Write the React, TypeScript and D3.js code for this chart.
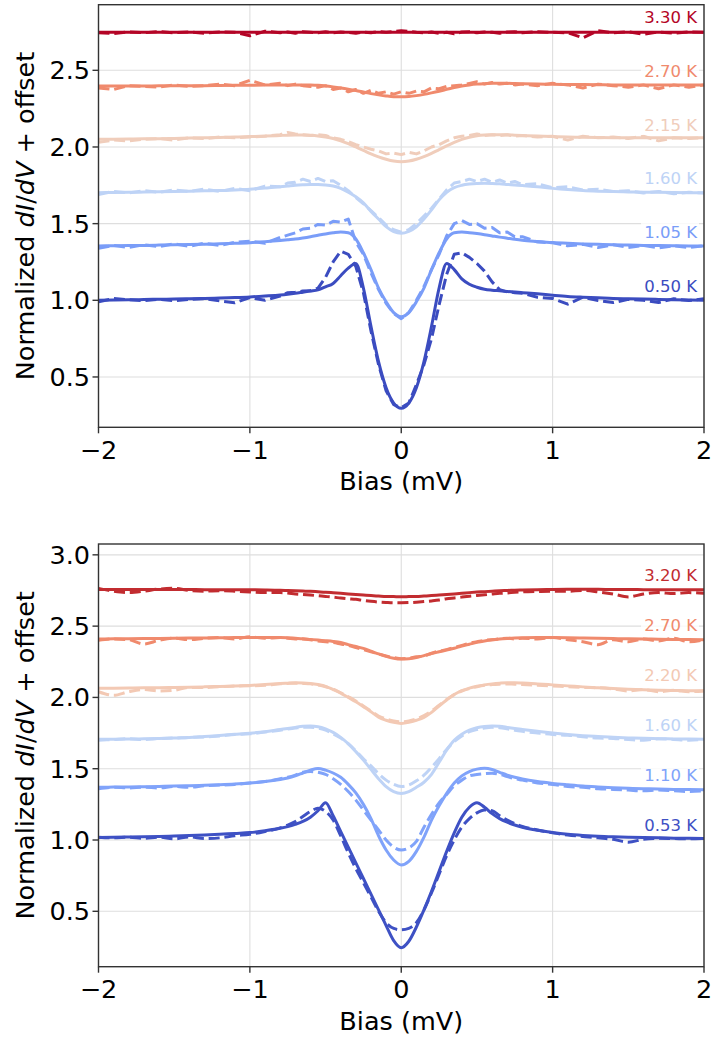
import React from 'react';
import * as d3 from 'd3';

// Bias grid (mV) shared by all curves
const BIAS = [
  -2.0, -1.9, -1.8, -1.7, -1.6, -1.5, -1.4, -1.3, -1.2, -1.1, -1.0, -0.9, -0.8,
  -0.75, -0.7, -0.65, -0.6, -0.55, -0.5, -0.45, -0.4, -0.35, -0.3, -0.25, -0.2, -0.15, -0.1, -0.05, 0,
  0.05, 0.1, 0.15, 0.2, 0.25, 0.3, 0.35, 0.4, 0.45, 0.5, 0.55, 0.6, 0.65, 0.7, 0.75,
  0.8, 0.9, 1.0, 1.1, 1.2, 1.3, 1.4, 1.5, 1.6, 1.7, 1.8, 1.9, 2.0,
];

const X_TICKS = [-2, -1, 0, 1, 2];
const Y_TICKS_TOP = [0.5, 1.0, 1.5, 2.0, 2.5];
const Y_TICKS_BOT = [0.5, 1.0, 1.5, 2.0, 2.5, 3.0];

// ---------- Top panel ----------
const TOP_TEMPS = ['0.50 K', '1.05 K', '1.60 K', '2.15 K', '2.70 K', '3.30 K'];
const TOP_COLORS = ['#3b4cc0', '#7a9df8', '#bed3f6', '#f0cdbb', '#f08a6d', '#b40426'];
const TOP_LEVELS = [1.0, 1.35, 1.7, 2.05, 2.4, 2.75];

const TOP_FIT_050 = [
  1.000, 1.002, 1.003, 1.005, 1.007, 1.008, 1.010, 1.012, 1.015, 1.018, 1.022, 1.028, 1.035,
  1.040, 1.046, 1.053, 1.060, 1.068, 1.088, 1.110, 1.160, 1.210, 1.240, 1.080, 0.830, 0.600, 0.430, 0.330, 0.296,
  0.330, 0.430, 0.600, 0.830, 1.080, 1.240, 1.200, 1.140, 1.105, 1.085, 1.072, 1.066, 1.062, 1.058, 1.054,
  1.050, 1.042, 1.033, 1.025, 1.020, 1.016, 1.012, 1.010, 1.008, 1.006, 1.004, 1.002, 1.000,
];
const TOP_DATA_050 = [
  0.990, 1.012, 1.004, 0.998, 1.006, 0.998, 1.006, 1.010, 0.996, 0.984, 1.018, 1.000, 1.028,
  1.050, 1.052, 1.060, 1.062, 1.080, 1.150, 1.250, 1.320, 1.300, 1.220, 1.050, 0.800, 0.580, 0.410, 0.320, 0.300,
  0.330, 0.450, 0.580, 0.750, 0.970, 1.170, 1.300, 1.310, 1.280, 1.240, 1.190, 1.120, 1.070, 1.055, 1.050,
  1.046, 1.020, 1.012, 0.975, 1.020, 0.998, 0.985, 1.006, 1.000, 0.985, 1.010, 0.998, 1.010,
];
const TOP_FIT_105 = [
  1.355, 1.356, 1.357, 1.358, 1.360, 1.362, 1.364, 1.366, 1.369, 1.372, 1.376, 1.382, 1.390,
  1.395, 1.400, 1.407, 1.415, 1.424, 1.433, 1.440, 1.445, 1.440, 1.400, 1.310, 1.200, 1.080, 0.990, 0.920, 0.893,
  0.920, 0.990, 1.080, 1.200, 1.310, 1.400, 1.440, 1.445, 1.441, 1.435, 1.428, 1.420, 1.412, 1.405, 1.398,
  1.392, 1.384, 1.377, 1.372, 1.368, 1.365, 1.362, 1.360, 1.358, 1.357, 1.356, 1.355, 1.355,
];
const TOP_DATA_105 = [
  1.340, 1.358, 1.345, 1.362, 1.350, 1.368, 1.352, 1.372, 1.358, 1.378, 1.386, 1.372, 1.410,
  1.425, 1.440, 1.465, 1.470, 1.495, 1.490, 1.515, 1.510, 1.530, 1.380, 1.300, 1.180, 1.070, 0.980, 0.915, 0.880,
  0.920, 1.000, 1.090, 1.200, 1.300, 1.420, 1.500, 1.520, 1.495, 1.500, 1.470, 1.475, 1.440, 1.445, 1.415,
  1.415, 1.380, 1.375, 1.355, 1.365, 1.345, 1.362, 1.345, 1.358, 1.342, 1.356, 1.344, 1.355,
];
const TOP_FIT_160 = [
  1.702, 1.703, 1.704, 1.706, 1.708, 1.710, 1.712, 1.714, 1.716, 1.720, 1.725, 1.732, 1.740,
  1.745, 1.750, 1.753, 1.755, 1.755, 1.752, 1.745, 1.730, 1.705, 1.675, 1.635, 1.580, 1.530, 1.480, 1.448, 1.437,
  1.450, 1.480, 1.530, 1.590, 1.655, 1.705, 1.735, 1.750, 1.758, 1.762, 1.763, 1.762, 1.760, 1.756, 1.752,
  1.748, 1.740, 1.730, 1.722, 1.716, 1.712, 1.709, 1.707, 1.705, 1.704, 1.703, 1.702, 1.701,
];
const TOP_DATA_160 = [
  1.690, 1.710, 1.700, 1.715, 1.705, 1.720, 1.710, 1.725, 1.710, 1.730, 1.715, 1.745, 1.740,
  1.765, 1.770, 1.790, 1.775, 1.795, 1.775, 1.780, 1.750, 1.715, 1.670, 1.630, 1.585, 1.540, 1.490, 1.460, 1.445,
  1.460, 1.500, 1.550, 1.600, 1.660, 1.720, 1.765, 1.775, 1.790, 1.775, 1.790, 1.770, 1.785, 1.765, 1.775,
  1.755, 1.760, 1.735, 1.740, 1.720, 1.725, 1.710, 1.715, 1.700, 1.710, 1.695, 1.705, 1.700,
];
const TOP_FIT_215 = [
  2.050, 2.051, 2.052, 2.053, 2.054, 2.056, 2.058, 2.060, 2.062, 2.065, 2.068, 2.071, 2.075,
  2.077, 2.078, 2.078, 2.076, 2.072, 2.065, 2.055, 2.040, 2.022, 2.000, 1.978, 1.955, 1.936, 1.920, 1.908, 1.904,
  1.908, 1.920, 1.937, 1.958, 1.983, 2.007, 2.030, 2.050, 2.064, 2.073, 2.078, 2.080, 2.080, 2.079, 2.077,
  2.075, 2.071, 2.068, 2.065, 2.063, 2.062, 2.061, 2.060, 2.060, 2.060, 2.060, 2.060, 2.060,
];
const TOP_DATA_215 = [
  2.030, 2.045, 2.040, 2.050, 2.055, 2.045, 2.060, 2.055, 2.065, 2.060, 2.065, 2.070, 2.080,
  2.095, 2.085, 2.080, 2.075, 2.080, 2.075, 2.060, 2.050, 2.035, 2.015, 2.000, 1.985, 1.975, 1.955, 1.960, 1.950,
  1.965, 1.955, 1.975, 2.000, 2.015, 2.040, 2.060, 2.070, 2.075, 2.085, 2.075, 2.080, 2.075, 2.080, 2.070,
  2.075, 2.065, 2.070, 2.045, 2.070, 2.060, 2.065, 2.055, 2.070, 2.040, 2.060, 2.055, 2.060,
];
const TOP_FIT_270 = [
  2.397, 2.397, 2.398, 2.398, 2.399, 2.399, 2.400, 2.400, 2.401, 2.402, 2.403, 2.404, 2.405,
  2.405, 2.405, 2.405, 2.404, 2.402, 2.398, 2.392, 2.385, 2.377, 2.368, 2.358, 2.348, 2.340, 2.333, 2.328, 2.327,
  2.329, 2.335, 2.343, 2.353, 2.364, 2.376, 2.388, 2.398, 2.405, 2.410, 2.413, 2.415, 2.415, 2.415, 2.414,
  2.413, 2.411, 2.409, 2.408, 2.407, 2.406, 2.405, 2.405, 2.404, 2.404, 2.404, 2.404, 2.404,
];
const TOP_DATA_270 = [
  2.385, 2.375, 2.400, 2.395, 2.390, 2.405, 2.395, 2.400, 2.410, 2.400, 2.435, 2.405, 2.415,
  2.400, 2.410, 2.400, 2.395, 2.390, 2.400, 2.375, 2.385, 2.360, 2.375, 2.350, 2.370, 2.350, 2.360, 2.345, 2.360,
  2.350, 2.365, 2.360, 2.385, 2.380, 2.395, 2.400, 2.405, 2.415, 2.425, 2.410, 2.420, 2.410, 2.415, 2.405,
  2.410, 2.400, 2.415, 2.405, 2.385, 2.410, 2.400, 2.390, 2.405, 2.380, 2.405, 2.390, 2.405,
];
const TOP_FIT_330 = [
  2.748, 2.748, 2.748, 2.748, 2.748, 2.748, 2.748, 2.748, 2.748, 2.748, 2.748, 2.748, 2.748,
  2.748, 2.748, 2.748, 2.748, 2.748, 2.748, 2.748, 2.748, 2.748, 2.748, 2.748, 2.748, 2.748, 2.748, 2.748, 2.748,
  2.748, 2.748, 2.748, 2.748, 2.748, 2.748, 2.748, 2.748, 2.748, 2.748, 2.748, 2.748, 2.748, 2.748, 2.748,
  2.748, 2.748, 2.748, 2.748, 2.748, 2.748, 2.748, 2.748, 2.748, 2.748, 2.748, 2.748, 2.748,
];
const TOP_DATA_330 = [
  2.745, 2.740, 2.750, 2.745, 2.752, 2.745, 2.750, 2.742, 2.750, 2.748, 2.725, 2.755, 2.745,
  2.750, 2.742, 2.752, 2.748, 2.745, 2.752, 2.745, 2.750, 2.748, 2.742, 2.750, 2.745, 2.752, 2.748, 2.752, 2.758,
  2.755, 2.748, 2.745, 2.750, 2.742, 2.748, 2.738, 2.750, 2.752, 2.745, 2.750, 2.748, 2.742, 2.750, 2.752,
  2.745, 2.752, 2.748, 2.745, 2.712, 2.758, 2.745, 2.752, 2.735, 2.750, 2.742, 2.750, 2.748,
];

// ---------- Bottom panel ----------
const BOT_TEMPS = ['0.53 K', '1.10 K', '1.60 K', '2.20 K', '2.70 K', '3.20 K'];
const BOT_COLORS = ['#3e51c4', '#80a3fa', '#bed3f6', '#f3c9b4', '#f08a6d', '#c22c30'];
const BOT_LEVELS = [1.0, 1.35, 1.7, 2.05, 2.4, 2.75];

const BOT_FIT_053 = [
  1.018, 1.019, 1.021, 1.023, 1.025, 1.028, 1.031, 1.035, 1.040, 1.046, 1.052, 1.065, 1.082,
  1.094, 1.110, 1.130, 1.160, 1.205, 1.262, 1.170, 1.060, 0.950, 0.840, 0.730, 0.620, 0.510, 0.400, 0.295, 0.245,
  0.290, 0.390, 0.510, 0.640, 0.780, 0.920, 1.050, 1.160, 1.230, 1.262, 1.230, 1.185, 1.150, 1.125, 1.105,
  1.090, 1.068, 1.052, 1.040, 1.032, 1.026, 1.022, 1.019, 1.017, 1.015, 1.013, 1.012, 1.011,
];
const BOT_DATA_053 = [
  1.020, 1.015, 1.020, 1.012, 1.020, 1.008, 1.022, 1.010, 1.015, 1.030, 1.040, 1.060, 1.085,
  1.105, 1.130, 1.165, 1.200, 1.222, 1.200, 1.140, 1.030, 0.910, 0.800, 0.700, 0.600, 0.500, 0.420, 0.380, 0.370,
  0.380, 0.420, 0.510, 0.630, 0.760, 0.890, 1.000, 1.090, 1.150, 1.190, 1.210, 1.205, 1.170, 1.140, 1.115,
  1.095, 1.070, 1.050, 1.035, 1.025, 1.015, 1.005, 0.985, 1.005, 1.012, 1.010, 1.008, 1.012,
];
const BOT_FIT_110 = [
  1.370, 1.371, 1.372, 1.374, 1.376, 1.378, 1.381, 1.384, 1.388, 1.393, 1.400, 1.410, 1.425,
  1.435, 1.450, 1.470, 1.490, 1.502, 1.490, 1.470, 1.440, 1.390, 1.330, 1.250, 1.150, 1.030, 0.930, 0.860, 0.825,
  0.850, 0.920, 1.020, 1.140, 1.240, 1.327, 1.400, 1.450, 1.480, 1.497, 1.503, 1.495, 1.475, 1.455, 1.440,
  1.428, 1.410, 1.397, 1.387, 1.378, 1.372, 1.367, 1.363, 1.360, 1.357, 1.355, 1.354, 1.352,
];
const BOT_DATA_110 = [
  1.360, 1.370, 1.365, 1.370, 1.365, 1.375, 1.370, 1.380, 1.385, 1.390, 1.400, 1.410, 1.430,
  1.440, 1.455, 1.475, 1.480, 1.475, 1.460, 1.430, 1.390, 1.340, 1.280, 1.210, 1.140, 1.070, 1.000, 0.950, 0.930,
  0.945, 0.990, 1.090, 1.180, 1.260, 1.320, 1.380, 1.420, 1.450, 1.460, 1.465, 1.468, 1.460, 1.445, 1.430,
  1.420, 1.400, 1.390, 1.375, 1.370, 1.360, 1.355, 1.350, 1.345, 1.350, 1.345, 1.340, 1.345,
];
const BOT_FIT_160 = [
  1.706, 1.707, 1.708, 1.710, 1.712, 1.715, 1.719, 1.726, 1.733, 1.741, 1.749, 1.760, 1.775,
  1.782, 1.790, 1.797, 1.799, 1.795, 1.780, 1.755, 1.720, 1.675, 1.620, 1.561, 1.495, 1.430, 1.375, 1.340, 1.327,
  1.340, 1.370, 1.405, 1.460, 1.545, 1.631, 1.700, 1.742, 1.770, 1.787, 1.796, 1.799, 1.797, 1.790, 1.782,
  1.775, 1.762, 1.750, 1.740, 1.732, 1.726, 1.720, 1.716, 1.713, 1.711, 1.709, 1.708, 1.707,
];
const BOT_DATA_160 = [
  1.700, 1.705, 1.710, 1.705, 1.712, 1.715, 1.720, 1.722, 1.730, 1.740, 1.745, 1.757, 1.770,
  1.778, 1.785, 1.790, 1.790, 1.785, 1.770, 1.745, 1.715, 1.675, 1.625, 1.570, 1.520, 1.465, 1.420, 1.390, 1.375,
  1.385, 1.415, 1.455, 1.510, 1.570, 1.635, 1.690, 1.730, 1.760, 1.775, 1.785, 1.790, 1.788, 1.780, 1.770,
  1.762, 1.750, 1.740, 1.735, 1.725, 1.715, 1.712, 1.705, 1.700, 1.710, 1.705, 1.700, 1.705,
];
const BOT_FIT_220 = [
  2.064, 2.065, 2.066, 2.067, 2.068, 2.070, 2.072, 2.074, 2.077, 2.080, 2.084, 2.090, 2.097,
  2.100, 2.103, 2.102, 2.098, 2.090, 2.078, 2.055, 2.030, 2.000, 1.970, 1.935, 1.900, 1.862, 1.840, 1.825, 1.818,
  1.825, 1.840, 1.860, 1.895, 1.940, 1.982, 2.020, 2.047, 2.065, 2.078, 2.088, 2.095, 2.100, 2.103, 2.103,
  2.101, 2.095, 2.088, 2.081, 2.074, 2.068, 2.062, 2.058, 2.054, 2.051, 2.049, 2.047, 2.046,
];
const BOT_DATA_220 = [
  2.040, 2.015, 2.040, 2.055, 2.045, 2.050, 2.070, 2.070, 2.075, 2.080, 2.082, 2.085, 2.095,
  2.098, 2.100, 2.098, 2.095, 2.087, 2.075, 2.058, 2.033, 2.005, 1.975, 1.940, 1.905, 1.870, 1.850, 1.835, 1.828,
  1.835, 1.850, 1.872, 1.905, 1.945, 1.985, 2.020, 2.045, 2.062, 2.075, 2.085, 2.090, 2.093, 2.095, 2.092,
  2.090, 2.085, 2.080, 2.075, 2.070, 2.068, 2.060, 2.045, 2.055, 2.040, 2.050, 2.040, 2.045,
];
const BOT_FIT_270 = [
  2.410, 2.411, 2.412, 2.413, 2.414, 2.415, 2.416, 2.417, 2.418, 2.420, 2.421, 2.421, 2.420,
  2.418, 2.415, 2.412, 2.407, 2.402, 2.398, 2.393, 2.385, 2.370, 2.357, 2.344, 2.325, 2.305, 2.288, 2.275, 2.269,
  2.272, 2.280, 2.293, 2.308, 2.320, 2.332, 2.345, 2.360, 2.373, 2.386, 2.396, 2.404, 2.410, 2.414, 2.417,
  2.419, 2.420, 2.420, 2.419, 2.417, 2.415, 2.413, 2.411, 2.410, 2.408, 2.407, 2.406, 2.405,
];
const BOT_DATA_270 = [
  2.400, 2.410, 2.405, 2.375, 2.400, 2.415, 2.405, 2.415, 2.420, 2.410, 2.425, 2.415, 2.420,
  2.415, 2.410, 2.410, 2.405, 2.395, 2.390, 2.385, 2.375, 2.365, 2.350, 2.335, 2.320, 2.305, 2.290, 2.280, 2.272,
  2.275, 2.285, 2.290, 2.310, 2.325, 2.335, 2.350, 2.365, 2.380, 2.390, 2.400, 2.405, 2.410, 2.415, 2.410,
  2.415, 2.410, 2.420, 2.405, 2.390, 2.370, 2.405, 2.390, 2.410, 2.395, 2.415, 2.390, 2.405,
];
const BOT_FIT_320 = [
  2.757, 2.757, 2.757, 2.757, 2.757, 2.757, 2.757, 2.756, 2.756, 2.756, 2.755, 2.754, 2.752,
  2.750, 2.748, 2.746, 2.744, 2.741, 2.738, 2.734, 2.730, 2.726, 2.722, 2.718, 2.714, 2.711, 2.708, 2.707, 2.706,
  2.707, 2.708, 2.711, 2.714, 2.718, 2.722, 2.726, 2.730, 2.735, 2.739, 2.742, 2.745, 2.748, 2.750, 2.752,
  2.753, 2.755, 2.757, 2.758, 2.758, 2.758, 2.757, 2.757, 2.756, 2.756, 2.755, 2.755, 2.755,
];
const BOT_DATA_320 = [
  2.765, 2.745, 2.735, 2.745, 2.760, 2.765, 2.750, 2.745, 2.748, 2.745, 2.740, 2.735, 2.735,
  2.732, 2.725, 2.722, 2.718, 2.713, 2.708, 2.703, 2.697, 2.692, 2.688, 2.680, 2.674, 2.669, 2.666, 2.664, 2.664,
  2.665, 2.668, 2.672, 2.677, 2.683, 2.692, 2.698, 2.704, 2.710, 2.715, 2.720, 2.725, 2.730, 2.733, 2.737,
  2.740, 2.743, 2.745, 2.745, 2.750, 2.740, 2.725, 2.705, 2.725, 2.735, 2.728, 2.735, 2.730,
];

const TOP_FITS = [TOP_FIT_050, TOP_FIT_105, TOP_FIT_160, TOP_FIT_215, TOP_FIT_270, TOP_FIT_330];
const TOP_DATA = [TOP_DATA_050, TOP_DATA_105, TOP_DATA_160, TOP_DATA_215, TOP_DATA_270, TOP_DATA_330];
const BOT_FITS = [BOT_FIT_053, BOT_FIT_110, BOT_FIT_160, BOT_FIT_220, BOT_FIT_270, BOT_FIT_320];
const BOT_DATA = [BOT_DATA_053, BOT_DATA_110, BOT_DATA_160, BOT_DATA_220, BOT_DATA_270, BOT_DATA_320];

const FONT = "'DejaVu Sans', sans-serif";
const AXIS_FS = 25.5;
const LABEL_FS = 16.5;
const SPINE = '#333333';
const LW = 3;

type PanelProps = {
  top: number;
  bottom: number;
  yDomain: [number, number];
  yTicks: number[];
  fits: number[][];
  datas: number[][];
  temps: string[];
  colors: string[];
  levels: number[];
  labelLift: number;
  tickLabelY: number;
  xLabelY: number;
  noisyData: boolean;
};

const LEFT = 98.5;
const RIGHT = 704;

function Panel(p: PanelProps) {
  const x = d3.scaleLinear().domain([-2, 2]).range([LEFT, RIGHT]);
  const y = d3.scaleLinear().domain(p.yDomain).range([p.bottom, p.top]);
  const fitLine = d3
    .line<number>()
    .x((_, i) => x(BIAS[i]))
    .y((v) => y(v))
    .curve(d3.curveMonotoneX);
  const dataLine = d3
    .line<number>()
    .x((_, i) => x(BIAS[i]))
    .y((v) => y(v))
    .curve(p.noisyData ? d3.curveLinear : d3.curveMonotoneX);
  const fmtY = d3.format('.1f');
  const fmtX = (v: number) => (v < 0 ? '\u2212' + Math.abs(v) : String(v));
  const cy = (p.top + p.bottom) / 2;
  const cx = (LEFT + RIGHT) / 2;
  const labelRight = 697;
  return (
    <g>
      {/* grid */}
      {X_TICKS.map((t) => (
        <line key={'gx' + t} x1={x(t)} x2={x(t)} y1={p.top} y2={p.bottom} stroke="#dedede" strokeWidth={1.1} />
      ))}
      {p.yTicks.map((t) => (
        <line key={'gy' + t} x1={LEFT} x2={RIGHT} y1={y(t)} y2={y(t)} stroke="#dedede" strokeWidth={1.1} />
      ))}
      {/* curves */}
      {p.temps.map((t, i) => (
        <g key={t}>
          <path
            d={dataLine(p.datas[i]) || ''}
            fill="none"
            stroke={p.colors[i]}
            strokeWidth={LW}
            strokeDasharray="11,4.8"
            strokeLinejoin="round"
          />
          <path d={fitLine(p.fits[i]) || ''} fill="none" stroke={p.colors[i]} strokeWidth={LW} strokeLinejoin="round" />
        </g>
      ))}
      {/* temperature labels */}
      {p.temps.map((t, i) => {
        const base = y(p.levels[i]) - p.labelLift;
        const w = t.length * LABEL_FS * 0.535;
        return (
          <g key={'lab' + t}>
            <rect x={labelRight - w - 3} y={base - 16} width={w + 5} height={20} fill="#ffffff" fillOpacity={0.8} />
            <text x={labelRight} y={base} textAnchor="end" fontFamily={FONT} fontSize={LABEL_FS} fill={p.colors[i]}>
              {t}
            </text>
          </g>
        );
      })}
      {/* spines */}
      <rect x={LEFT} y={p.top} width={RIGHT - LEFT} height={p.bottom - p.top} fill="none" stroke={SPINE} strokeWidth={1.4} />
      {/* x ticks */}
      {X_TICKS.map((t) => (
        <g key={'xt' + t}>
          <line x1={x(t)} x2={x(t)} y1={p.bottom} y2={p.bottom + 6} stroke={SPINE} strokeWidth={1.4} />
          <text x={x(t)} y={p.tickLabelY} textAnchor="middle" fontFamily={FONT} fontSize={AXIS_FS} fill="#000">
            {fmtX(t)}
          </text>
        </g>
      ))}
      {/* y ticks */}
      {p.yTicks.map((t) => (
        <g key={'yt' + t}>
          <line x1={LEFT - 6} x2={LEFT} y1={y(t)} y2={y(t)} stroke={SPINE} strokeWidth={1.4} />
          <text x={90} y={y(t) + 9} textAnchor="end" fontFamily={FONT} fontSize={AXIS_FS} fill="#000">
            {fmtY(t)}
          </text>
        </g>
      ))}
      {/* axis labels */}
      <text x={cx} y={p.xLabelY} textAnchor="middle" fontFamily={FONT} fontSize={AXIS_FS} fill="#000">
        Bias (mV)
      </text>
      <text
        transform={`translate(33.5, ${cy}) rotate(-90)`}
        textAnchor="middle"
        fontFamily={FONT}
        fontSize={AXIS_FS}
        fill="#000"
      >
        Normalized <tspan fontStyle="italic">dI</tspan>/<tspan fontStyle="italic">dV</tspan> + offset
      </text>
    </g>
  );
}

export default function App() {
  return (
    <svg
      width={712}
      height={1038}
      viewBox="0 0 712 1038"
      style={{ position: 'absolute', left: 0, top: 0, background: '#fff' }}
    >
      <rect x={0} y={0} width={712} height={1038} fill="#fff" />
      <Panel
        top={4.7}
        bottom={427.3}
        yDomain={[0.1717, 2.928]}
        yTicks={Y_TICKS_TOP}
        fits={TOP_FITS}
        datas={TOP_DATA}
        temps={TOP_TEMPS}
        colors={TOP_COLORS}
        levels={TOP_LEVELS}
        labelLift={8.5}
        tickLabelY={459}
        xLabelY={490}
        noisyData={true}
      />
      <Panel
        top={544}
        bottom={966.7}
        yDomain={[0.1115, 3.076]}
        yTicks={Y_TICKS_BOT}
        fits={BOT_FITS}
        datas={BOT_DATA}
        temps={BOT_TEMPS}
        colors={BOT_COLORS}
        levels={BOT_LEVELS}
        labelLift={9.5}
        tickLabelY={998}
        xLabelY={1030}
        noisyData={false}
      />
    </svg>
  );
}
